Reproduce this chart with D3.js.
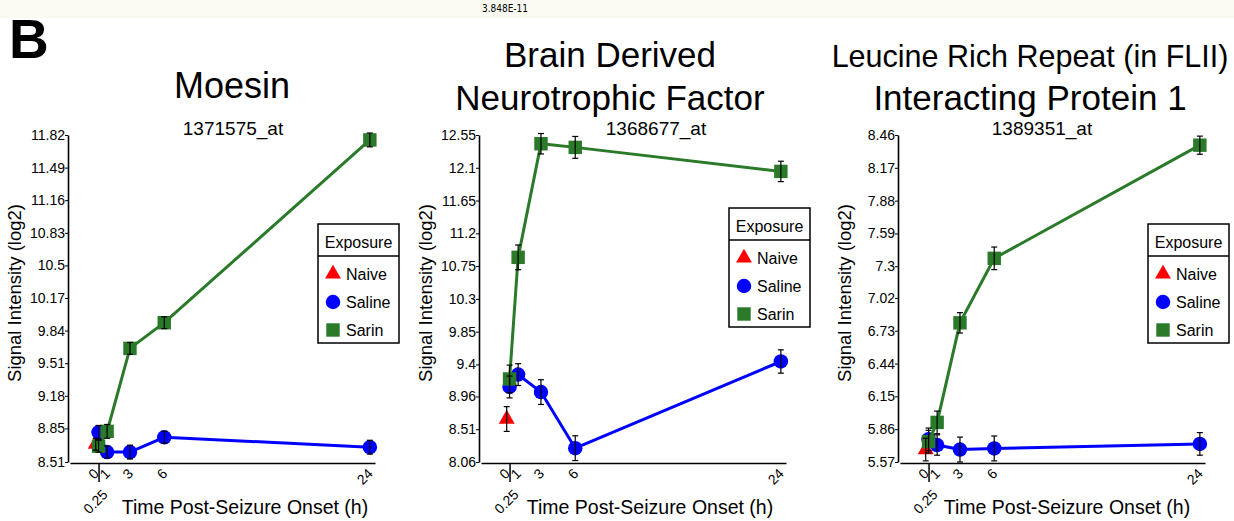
<!DOCTYPE html>
<html>
<head>
<meta charset="utf-8">
<script src="https://cdn.jsdelivr.net/npm/d3@7"></script>
<style>
  body { margin: 0; background: #fff; }
  svg { display: block; }
  text { font-family: "Liberation Sans", Arial, sans-serif; fill: #000; }
</style>
</head>
<body>
<svg id="chart" width="1234" height="521"></svg>
<script>
// time points (h)
const hours = [0.25, 1, 3, 6, 24];
const xTicks = [0, 0.25, 1, 3, 6, 24];

const titles = [
  ["Moesin"],
  ["Brain Derived", "Neurotrophic Factor"],
  ["Leucine Rich Repeat (in FLII)", "Interacting Protein 1"]
];
const probeIds = ["1371575_at", "1368677_at", "1389351_at"];

const yTickLabels = [
  ["8.51", "8.85", "9.18", "9.51", "9.84", "10.17", "10.5", "10.83", "11.16", "11.49", "11.82"],
  ["8.06", "8.51", "8.96", "9.4", "9.85", "10.3", "10.75", "11.2", "11.65", "12.1", "12.55"],
  ["5.57", "5.86", "6.15", "6.44", "6.73", "7.02", "7.3", "7.59", "7.88", "8.17", "8.46"]
];

// naive controls (time 0)
const naiveMean = [8.69, 8.65, 5.68];
const naiveErr = [0.06, 0.17, 0.10];

// saline
const salineMean = [
  [8.81, 8.61, 8.61, 8.76, 8.66],
  [9.09, 9.26, 9.02, 8.25, 9.44],
  [5.77, 5.72, 5.68, 5.69, 5.73]
];
const salineErr = [
  [0.07, 0.06, 0.07, 0.06, 0.07],
  [0.15, 0.15, 0.17, 0.17, 0.16],
  [0.10, 0.09, 0.11, 0.11, 0.10]
];

// sarin
const sarinMean = [
  [8.67, 8.82, 9.66, 9.92, 11.77],
  [9.20, 10.87, 12.43, 12.38, 12.05],
  [5.75, 5.92, 6.80, 7.37, 8.37]
];
const sarinErr = [
  [0.06, 0.07, 0.06, 0.06, 0.07],
  [0.19, 0.17, 0.14, 0.15, 0.14],
  [0.10, 0.10, 0.09, 0.10, 0.08]
];

const legendItems = ["Naive", "Saline", "Sarin"];
const colors = { Naive: "#ff0000", Saline: "#0000ff", Sarin: "#2a7a2a" };

const svg = d3.select("#chart");

// header strip
svg.append("rect").attr("x", 0).attr("y", 0).attr("width", 1234).attr("height", 18).attr("fill", "#fbfaf2");
svg.append("text").attr("x", 505).attr("y", 9).attr("text-anchor", "middle")
  .attr("font-size", 10).attr("dominant-baseline", "middle")
  .style("font-family", "'DejaVu Sans Condensed', 'DejaVu Sans', sans-serif")
  .text("3.848E-11");

svg.append("text").attr("x", 9).attr("y", 58).attr("font-size", 55).attr("font-weight", "bold").text("B");

const panelLeft = [70, 481, 900];
const plotW = 305, plotTop = 135, plotBottom = 462;
const titleX = [232, 610, 1030];
// font size per title line
const titleSize = [[36], [35, 35], [30.5, 35]];
const subX = [233, 656, 1042];
const xLabelX = [245, 650, 1067];
const legendTop = [224, 208, 224];

const symbol = {
  Naive: d3.symbol().type(d3.symbolTriangle).size(110),
  Saline: d3.symbol().type(d3.symbolCircle).size(165),
  Sarin: d3.symbol().type(d3.symbolSquare).size(180)
};

function drawPanel(i) {
  const x0 = panelLeft[i];
  const x = d3.scaleLinear().domain([-2.25, 24.45]).range([x0, x0 + plotW]);
  const ticks = yTickLabels[i].map(Number);
  const y = d3.scaleLinear().domain([ticks[0], ticks[ticks.length - 1]]).range([plotBottom, plotTop]);
  const g = svg.append("g");

  // titles
  const t = titles[i];
  t.forEach((line, k) => {
    g.append("text").attr("x", titleX[i])
      .attr("y", t.length === 1 ? 98 : 67 + k * 43)
      .attr("text-anchor", "middle").attr("font-size", titleSize[i][k]).text(line);
  });
  g.append("text").attr("x", subX[i]).attr("y", 135).attr("text-anchor", "middle")
    .attr("font-size", 19).text(probeIds[i]);

  // y axis
  const yAxis = g.append("g").attr("transform", `translate(${x0 - 2},0)`)
    .call(d3.axisLeft(y).tickValues(ticks).tickFormat((d, k) => yTickLabels[i][k]).tickSize(3).tickPadding(0).tickSizeOuter(0));
  yAxis.select(".domain").attr("stroke-width", 1.6);
  yAxis.selectAll("text").attr("font-size", 14).style("font-family", "'Liberation Sans', Arial, sans-serif");

  // x axis
  const xAxis = g.append("g").attr("transform", `translate(0,${plotBottom + 1})`)
    .call(d3.axisBottom(x).tickValues(xTicks).tickSize(0).tickSizeOuter(0).tickFormat(d => String(d)));
  xAxis.select(".domain").attr("stroke-width", 1.6);
  xAxis.selectAll(".tick text")
    .attr("font-size", 14)
    .style("font-family", "'Liberation Sans', Arial, sans-serif")
    .attr("text-anchor", "end")
    .attr("dy", "0.35em")
    .attr("y", 0)
    .attr("transform", d => d === 0.25 ? "translate(6,29) rotate(-45)" : "translate(0,8) rotate(-45)");
  xAxis.selectAll(".tick").filter(d => d === 0.25).append("line")
    .attr("y1", 0).attr("y2", 19).attr("stroke", "#000").attr("stroke-width", 1.5);

  // axis labels
  g.append("text").attr("x", xLabelX[i]).attr("y", 514).attr("text-anchor", "middle")
    .attr("font-size", 19.5).text("Time Post-Seizure Onset (h)");
  g.append("text").attr("transform", `translate(${x0 - 49},293) rotate(-90)`)
    .attr("text-anchor", "middle").attr("font-size", 18.5).text("Signal Intensity (log2)");

  // series
  const series = [
    { name: "Saline", mean: salineMean[i], err: salineErr[i] },
    { name: "Sarin", mean: sarinMean[i], err: sarinErr[i] }
  ];
  const line = d3.line().x(d => x(d[0])).y(d => y(d[1]));

  const naive = { name: "Naive", pts: [[0, naiveMean[i], naiveErr[i]]] };
  const all = [naive].concat(series.map(s => ({ name: s.name, pts: hours.map((h, k) => [h, s.mean[k], s.err[k]]) })));

  all.forEach(s => {
    if (s.pts.length > 1) {
      g.append("path").datum(s.pts).attr("d", line).attr("fill", "none")
        .attr("stroke", colors[s.name]).attr("stroke-width", 3);
    }
    g.selectAll(null).data(s.pts).enter().append("path")
      .attr("d", symbol[s.name])
      .attr("transform", d => `translate(${x(d[0])},${y(d[1])})`)
      .attr("fill", colors[s.name]);
  });

  // error bars on top
  all.forEach(s => {
    const eb = g.selectAll(null).data(s.pts).enter().append("g").attr("stroke", "#000").attr("stroke-width", 1.2);
    eb.append("line").attr("x1", d => x(d[0])).attr("x2", d => x(d[0]))
      .attr("y1", d => y(d[1] - d[2])).attr("y2", d => y(d[1] + d[2]));
    eb.append("line").attr("x1", d => x(d[0]) - 3).attr("x2", d => x(d[0]) + 3)
      .attr("y1", d => y(d[1] - d[2])).attr("y2", d => y(d[1] - d[2]));
    eb.append("line").attr("x1", d => x(d[0]) - 3).attr("x2", d => x(d[0]) + 3)
      .attr("y1", d => y(d[1] + d[2])).attr("y2", d => y(d[1] + d[2]));
  });

  // legend
  const lx = x0 + plotW - 57, ly = legendTop[i];
  const lg = g.append("g").attr("transform", `translate(${lx},${ly})`);
  lg.append("rect").attr("width", 81).attr("height", 119).attr("fill", "#fff")
    .attr("stroke", "#000").attr("stroke-width", 1.5);
  lg.append("line").attr("x1", 0).attr("x2", 81).attr("y1", 32).attr("y2", 32).attr("stroke", "#000").attr("stroke-width", 1.5);
  lg.append("text").attr("x", 40.5).attr("y", 18).attr("dy", "0.35em").attr("text-anchor", "middle")
    .attr("font-size", 16).text("Exposure");
  legendItems.forEach((name, k) => {
    const yy = 50 + k * 28;
    lg.append("path").attr("d", symbol[name]).attr("transform", `translate(15,${yy})`).attr("fill", colors[name]);
    lg.append("text").attr("x", 28).attr("y", yy).attr("dy", "0.35em").attr("font-size", 16).text(name);
  });
}

[0, 1, 2].forEach(drawPanel);
</script>
</body>
</html>
